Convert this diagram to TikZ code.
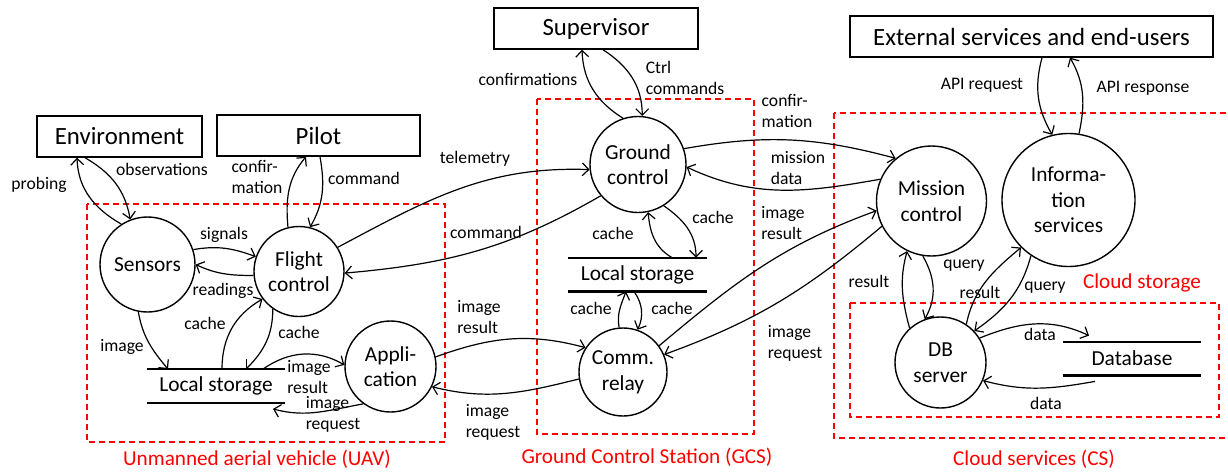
\documentclass[tikz,border=0pt]{standalone}
\usepackage{fontspec}
\setmainfont{Carlito}
\usetikzlibrary{arrows.meta}

\begin{document}
\begin{tikzpicture}
  [x=0.5pt, y=-0.5pt, every node/.style={inner sep=0pt}]
  \tikzset{edge/.style = {-{Straight Barb[length=3.2pt,width=6.4pt]}, line width=0.6pt}}
  \tikzset{proc/.style = {circle, draw, line width=0.7pt, align=center,
             font=\fontsize{10.7}{12.8}\selectfont},
           ext/.style = {rectangle, draw, line width=0.7pt, minimum height=20.5pt,
             font=\fontsize{12.4}{14}\selectfont},
           store/.style = {minimum height=16.5pt, minimum width=69pt,
             font=\fontsize{10.7}{12.8}\selectfont},
           storeline/.style = {line width=1.1pt},
           lbl/.style = {align=left, font=\fontsize{8.8}{10.5}\selectfont},
           zone/.style = {draw=red, dashed, dash pattern=on 3pt off 2pt, line width=0.65pt},
           zonelbl/.style = {text=red, font=\fontsize{10.6}{12.7}\selectfont}}
  \useasboundingbox (0,0) rectangle (1228,472);

  % zones
  \draw[zone] (87,204) rectangle (445,442);
  \draw[zone] (537,99) rectangle (754,434);
  \draw[zone] (834,113) rectangle (1240,438);
  \draw[zone] (850,303) rectangle (1219,417);
  \node[zonelbl] (uavlbl) at (257,459) {Unmanned aerial vehicle (UAV)};
  \node[zonelbl] (gcslbl) at (647,457) {Ground Control Station (GCS)};
  \node[zonelbl] (cslbl)  at (1034,459) {Cloud services (CS)};
  \node[zonelbl] (cstlbl) at (1142,283) {Cloud storage};

  % external entities
  \node[ext, minimum width=82.5pt]  (env)   at (119.5,136.5) {Environment};
  \node[ext, minimum width=101.5pt] (pilot) at (318.5,135.5) {Pilot};
  \node[ext, minimum width=102pt]   (sup)   at (596,28.5)    {Supervisor};
  \node[ext, minimum width=181.5pt] (ext)   at (1031.5,36.5) {External services and end-users};

  % processes
  \node[proc, minimum size=47.5pt] (sens) at (147.5,264.5) {Sensors};
  \node[proc, minimum size=45pt]   (fc)   at (299,271.5)   {Flight\\control};
  \node[proc, minimum size=45.5pt] (app)  at (390.5,366.5) {Appli-\\cation};
  \node[proc, minimum size=48pt]   (gc)   at (638,164.5)   {Ground\\control};
  \node[proc, minimum size=44pt]   (cr)   at (623,372)     {Comm.\\relay};
  \node[proc, minimum size=55pt]   (mc)   at (931.5,201)   {Mission\\control};
  \node[proc, minimum size=66.5pt] (info) at (1068.5,200)  {Informa-\\tion\\services};
  \node[proc, minimum size=45.5pt] (db)   at (940.5,362.5) {DB\\server};

  % data stores
  \node[store]                    (ls1)   at (216,386)    {Local storage};
  \node[store, minimum width=69.5pt] (ls2) at (637.5,274.5) {Local storage};
  \node[store]                    (dbase) at (1132,358.5) {Database};
  \foreach \s in {ls1,ls2,dbase} {
    \draw[storeline] (\s.north west) -- (\s.north east);
    \draw[storeline] (\s.south west) -- (\s.south east);
  }

  % free ends on boxes and stores
  \coordinate (env-in)    at ([xshift=-21.25pt]env.south);
  \coordinate (env-out)   at ([xshift=-17.25pt]env.south);
  \coordinate (pilot-in)  at ([xshift=-6.25pt]pilot.south);
  \coordinate (pilot-out) at ([xshift=0.75pt]pilot.south);
  \coordinate (sup-in)    at ([xshift=-7pt]sup.south);
  \coordinate (sup-out)   at ([xshift=3.5pt]sup.south);
  \coordinate (ext-out)   at ([xshift=5.25pt]ext.south);
  \coordinate (ext-in)    at ([xshift=19.25pt]ext.south);
  \coordinate (ls1-a)     at ([xshift=-24pt]ls1.north);
  \coordinate (ls1-b)     at ([xshift=3pt]ls1.north);
  \coordinate (ls1-c)     at ([xshift=15pt]ls1.north);
  \coordinate (ls1-d)     at ([xshift=23.5pt]ls1.north);
  \coordinate (ls1-e)     at ([xshift=28.5pt,yshift=-3pt]ls1.south);
  \coordinate (ls2-a)     at ([xshift=17.25pt]ls2.north);
  \coordinate (ls2-b)     at ([xshift=29.25pt]ls2.north);
  \coordinate (ls2-c)     at ([xshift=-5.75pt]ls2.south);
  \coordinate (ls2-d)     at ([xshift=-1.75pt]ls2.south);
  \coordinate (dbase-in)  at ([xshift=-21.5pt,yshift=3pt]dbase.north);
  \coordinate (dbase-out) at ([xshift=-18.5pt,yshift=-3pt]dbase.south);

  % flows
  \foreach \from/\to/\o/\i in {
      sens.123/env-in/150/-88, env-out/sens.111/-30/100,
      fc.104/pilot-in/95/-130, pilot-out/fc.76/-80/60,
      sens.18/fc.161/10/160, fc.185/sens.0/180/-25,
      sens.-101/ls1-a/-80/130, ls1-b/fc.217/90/-150,
      fc.-125/ls1-c/-90/45, ls1-d/app.178/35/150,
      app.-126/ls1-e/-170/-15,
      gc.108/sup-in/148/-88, sup-out/gc.85/-33/90,
      fc.32/gc.186/28/178, gc.220/fc.-2/-150/5,
      ls2-a/gc.-78/150/-85, gc.-58/ls2-b/-35/90,
      cr.95/ls2-c/100/-110, ls2-d/cr.71/-55/65,
      app.12/cr.147/20/165, cr.189/app.-26/-166/-14,
      gc.19/mc.130/10/165, mc.157/gc.-3/-170/-25,
      cr.36/mc.190/40/-160, mc.207/cr.23/-140/20,
      ext-out/info.104/-105/120, info.81/ext-in/78/-60,
      db.132/mc.-116/105/-105, mc.-99/db.110/-60/60,
      db.56/info.-135/78/-140, info.-124/db.43/-105/35,
      db.32/dbase-in/22/155, dbase-out/db.-23/-170/-15}
    \draw[edge] (\from) to[out=\o,in=\i] (\to);

  % flow labels
  \node[lbl] (l-probing) at (39,185)   {probing};
  \node[lbl] (l-obs)     at (162,169)  {observations};
  \node[lbl] (l-pconf)   at (257,177)  {confir-\\mation};
  \node[lbl] (l-pcmd)    at (364,178)  {command};
  \node[lbl] (l-signals) at (224,235)  {signals};
  \node[lbl] (l-reads)   at (223,291)  {readings};
  \node[lbl] (l-image)   at (122,347)  {image};
  \node[lbl] (l-cache1)  at (205,323)  {cache};
  \node[lbl] (l-cache2)  at (299,332)  {cache};
  \node[lbl] (l-ires1)   at (309,377)  {image\\result};
  \node[lbl] (l-ireq1)   at (333,414)  {image\\request};
  \node[lbl] (l-confs)   at (528,79)   {confirmations};
  \node[lbl] (l-ctrl)    at (685,78)   {Ctrl\\commands};
  \node[lbl] (l-tele)    at (475,159)  {telemetry};
  \node[lbl] (l-cmd)     at (486,232)  {command};
  \node[lbl] (l-cache3)  at (613,233)  {cache};
  \node[lbl] (l-cache4)  at (713,217)  {cache};
  \node[lbl] (l-cache5)  at (591,308)  {cache};
  \node[lbl] (l-cache6)  at (672,308)  {cache};
  \node[lbl] (l-ires2)   at (479,317)  {image\\result};
  \node[lbl] (l-ireq2)   at (493,422)  {image\\request};
  \node[lbl] (l-mconf)   at (787,111)  {confir-\\mation};
  \node[lbl] (l-mdata)   at (798,168)  {mission\\data};
  \node[lbl] (l-ires3)   at (783,223)  {image\\result};
  \node[lbl] (l-ireq3)   at (795,343)  {image\\request};
  \node[lbl] (l-apireq)  at (982,85)   {API request};
  \node[lbl] (l-apires)  at (1143,88)  {API response};
  \node[lbl] (l-res1)    at (869,281)  {result};
  \node[lbl] (l-query1)  at (964,266)  {query};
  \node[lbl] (l-res2)    at (980,292)  {result};
  \node[lbl] (l-query2)  at (1045,288) {query};
  \node[lbl] (l-data1)   at (1040,334) {data};
  \node[lbl] (l-data2)   at (1046,403) {data};
\end{tikzpicture}
\end{document}
